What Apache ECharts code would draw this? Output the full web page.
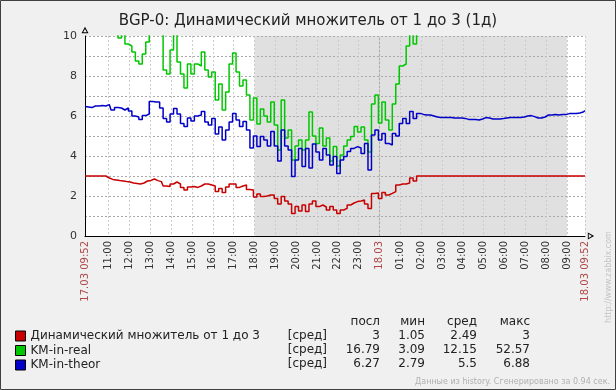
<!DOCTYPE html>
<html>
<head>
<meta charset="utf-8">
<script src="https://cdn.jsdelivr.net/npm/echarts@6/dist/echarts.min.js"></script>
<style>
html,body{margin:0;padding:0;background:#f0f0f0;}
#chart{width:616px;height:390px;}
</style>
</head>
<body>
<div id="chart"></div>
<script>
// ---- data ----
const titleText = 'BGP-0: Динамический множитель от 1 до 3 (1д)';
const seriesNames = ['Динамический множитель от 1 до 3', 'KM-in-real', 'KM-in-theor'];
const seriesColors = ['#c80000', '#00c800', '#0000c8'];
// samples every 10 minutes from 17.03 09:52 (minute 592 of 17.03) to 18.03 09:52
const sampleStartMin = 592;
const sampleStepMin = 10;
const dynMult = [
  3,3,3,3,3,3,3,2.9,2.83,2.8,
  2.77,2.75,2.72,2.7,2.65,2.63,2.6,2.65,2.75,2.78,
  2.85,2.77,2.72,2.5,2.47,2.6,2.7,2.6,2.43,2.3,
  2.45,2.47,2.43,2.5,2.6,2.6,2.55,2.5,2.22,2.38,
  2.17,2.45,2.6,2.6,2.43,2.5,2.55,2.33,2.3,1.95,
  2.1,1.97,2.0,2.05,2.05,1.88,1.6,1.97,1.75,1.6,
  1.13,1.47,1.25,1.55,1.22,1.6,1.75,1.47,1.55,1.45,
  1.3,1.47,1.3,1.13,1.3,1.38,1.55,1.65,1.72,1.75,
  1.8,1.6,1.38,2.13,2.15,1.88,2.17,2.05,2.13,2.22,
  2.55,2.6,2.6,2.65,2.9,2.75,3,3,3,3,
  3,3,3,3,3,3,3,3,3,3,
  3,3,3,3,3,3,3,3,3,3,
  3,3,3,3,3,3,3,3,3,3,
  3,3,3,3,3,3,3,3,3,3,
  3,3,3,3,3
];
const kmReal = [
  11.8,12.4,13.1,12.6,11.9,12.8,13.5,12.2,11.4,10.8,
  9.9,10.2,9.6,9.5,9.2,8.75,8.6,9.1,9.7,10.8,
  11.5,11,10.2,8.3,8.1,9.3,10.3,8.7,8.1,7.4,
  8.6,8.1,8.6,8.5,9.2,8.3,7.95,8.2,6.8,7.6,
  6.3,7.2,8.6,9.15,8.2,7.5,7.8,7.05,5.8,6.9,
  5.6,6.35,6.0,5.7,6.7,5.55,4.3,6.8,4.9,5.3,
  3.8,4.5,4.8,4.3,4.8,6.2,5.0,4.63,5.4,4.5,
  4.9,3.75,4.47,3.5,4.05,4.5,4.8,4.97,5.47,5.2,
  5.45,4.8,4.2,6.6,7.05,5.65,6.7,5.8,5.3,6.6,
  7.6,8.5,8.6,9.5,10.3,9.6,11,12.5,14,16,
  19,23,27,31,36,42,48,52.57,47,41,
  36,32,29,26,24,22,20.5,19,18,17.5,
  17,16.5,16.2,16,15.8,15.6,15.5,15.6,15.8,16,
  16.1,16.2,16.3,16.4,16.5,16.6,16.7,16.7,16.8,16.8,
  16.7,16.8,16.8,16.8,16.79
];
const kmTheor = [
  6.48,6.45,6.42,6.5,6.5,6.52,6.5,6.57,6.3,6.43,
  6.4,6.3,6.4,6.25,6.0,5.95,5.82,6.02,6.1,6.72,
  6.7,6.7,6.4,5.88,5.7,6.1,6.38,6.1,5.63,5.47,
  5.9,5.75,6.0,6.05,6.22,5.7,5.55,5.88,5.1,5.45,
  4.8,5.3,5.7,6.13,5.8,5.47,5.72,5.3,4.4,5.0,
  4.47,4.97,4.8,4.5,5.22,4.5,3.75,5.3,4.5,4.3,
  2.97,3.8,4.38,3.47,4.38,3.4,4.6,4.2,3.8,4.38,
  4.05,3.55,3.97,3.13,3.8,3.97,4.22,4.38,4.47,4.4,
  4.13,4.63,3.3,5.05,5.3,4.8,5.13,4.63,4.55,5.13,
  5.0,5.63,5.88,5.63,6.22,5.88,6.13,6.08,6.05,6.05,
  6.0,5.95,5.93,5.93,5.93,5.93,5.9,5.9,5.9,5.88,
  5.83,5.83,5.82,5.8,5.85,5.92,5.9,5.85,5.85,5.85,
  5.87,5.9,5.92,5.92,5.92,5.92,5.95,6.0,6.02,5.97,
  5.9,5.9,5.95,6.05,6.05,6.07,6.05,6.07,6.07,6.12,
  6.13,6.12,6.15,6.2,6.27
];
// x-axis tick labels
const startLabel = '17.03 09:52';
const endLabel = '18.03 09:52';
const hourLabels = ['11:00','12:00','13:00','14:00','15:00','16:00','17:00','18:00','19:00','20:00',
  '21:00','22:00','23:00','18.03','01:00','02:00','03:00','04:00','05:00','06:00','07:00','08:00','09:00'];
const firstHourMin = 660;   // 17.03 11:00
const axisStartMin = 592;   // 17.03 09:52
const axisEndMin = 2032;    // 18.03 09:52
const midnightMin = 1440;
const workStartMin = 1080;  // 18:00
const workEndMin = 1980;    // 09:00 next day
const yTicks = [0, 2, 4, 6, 8, 10];
// legend table
const statHeaders = ['посл', 'мин', 'сред', 'макс'];
const statFunc = '[сред]';
const statLast = ['3', '16.79', '6.27'];
const statMin = ['1.05', '3.09', '2.79'];
const statAvg = ['2.49', '12.15', '5.5'];
const statMax = ['3', '52.57', '6.88'];
const footerText = 'Данные из history. Сгенерировано за 0.94 сек.';
const sideText = 'http://www.zabbix.com';

// ---- build ----
const FONT = 'DejaVu Sans';
const tickVals = [axisStartMin];
const labelMap = {};
labelMap[axisStartMin] = startLabel;
hourLabels.forEach((l, k) => { const v = firstHourMin + 60 * k; tickVals.push(v); labelMap[v] = l; });
tickVals.push(axisEndMin);
labelMap[axisEndMin] = endLabel;
const redLabels = new Set([startLabel, endLabel, '18.03']);

function toPairs(arr) { return arr.map((v, i) => [sampleStartMin + sampleStepMin * i, v]); }

const arrowPath = 'path://M5,0 L10,9 L0,9 Z M5,3.2 L2.3,7.7 L7.7,7.7 Z';

const dataList = [dynMult, kmReal, kmTheor];
const series = [{
  type: 'line', data: [], z: 1, silent: true,
  markArea: { silent: true, z: 1, itemStyle: { color: '#e0e0e0' },
    data: [[{ xAxis: workStartMin }, { xAxis: workEndMin }]] },
  markLine: { silent: true, z: 2, symbol: ['none', 'none'], label: { show: false },
    lineStyle: { color: '#a8a8a8', type: [2, 2], width: 1 }, emphasis: { disabled: true },
    data: [{ xAxis: midnightMin }] }
}];
seriesNames.forEach((n, i) => {
  series.push({
    name: n, type: 'line', data: toPairs(dataList[i]), z: 3, step: 'middle',
    showSymbol: false, symbol: 'none', color: seriesColors[i],
    lineStyle: { width: 1.5, color: seriesColors[i] }, clip: true
  });
});

const graphics = [];
const colRight = [380, 425, 477, 530];
const rowY = [335.5, 349.5, 363.5];
statHeaders.forEach((h, c) => graphics.push({ type: 'text', x: colRight[c], y: 322,
  style: { text: h, align: 'right', verticalAlign: 'middle', font: '12px ' + FONT, fill: '#222' } }));
const cols = [statLast, statMin, statAvg, statMax];
rowY.forEach((y, r) => {
  graphics.push({ type: 'text', x: 327, y: y,
    style: { text: statFunc, align: 'right', verticalAlign: 'middle', font: '12px ' + FONT, fill: '#222' } });
  cols.forEach((col, c) => graphics.push({ type: 'text', x: colRight[c], y: y,
    style: { text: col[r], align: 'right', verticalAlign: 'middle', font: '12px ' + FONT, fill: '#222' } }));
});
graphics.push({ type: 'text', x: 610, y: 382,
  style: { text: footerText, align: 'right', verticalAlign: 'middle', font: '8px ' + FONT, fill: '#b0b0b0' } });
graphics.push({ type: 'text', x: 609, y: 277, rotation: Math.PI / 2,
  style: { text: sideText, align: 'center', verticalAlign: 'middle', font: '8px ' + FONT, fill: '#c4c4c4' } });
graphics.push({ type: 'rect', shape: { x: 0.5, y: 0.5, width: 615, height: 389 }, silent: true,
  style: { fill: 'none', stroke: '#404040', lineWidth: 1 } });

const chart = echarts.init(document.getElementById('chart'), null, { renderer: 'canvas' });
chart.setOption({
  animation: false,
  backgroundColor: '#f0f0f0',
  title: { text: titleText, left: 'center', top: 9,
    textStyle: { fontFamily: FONT, fontSize: 15, fontWeight: 'normal', color: '#222' } },
  legend: { orient: 'vertical', left: 10, top: 325, itemWidth: 10, itemHeight: 10, itemGap: 2.5,
    icon: 'rect', selectedMode: false, data: seriesNames,
    itemStyle: { borderColor: '#000', borderWidth: 1 },
    textStyle: { fontFamily: FONT, fontSize: 12, color: '#222' } },
  grid: { left: 85, right: 31, top: 36, bottom: 154, show: true, backgroundColor: '#ffffff',
    borderWidth: 0, containLabel: false, outerBoundsMode: 'none' },
  xAxis: {
    type: 'value', min: axisStartMin, max: axisEndMin, z: 2,
    axisLine: { show: true, onZero: false, lineStyle: { color: '#000', width: 1 },
      symbol: ['none', arrowPath], symbolSize: [7, 8], symbolOffset: [0, 6] },
    axisTick: { show: false, customValues: tickVals },
    axisLabel: { customValues: tickVals, rotate: 90, margin: 5, fontSize: 10, fontFamily: FONT,
      showMinLabel: true, showMaxLabel: true, hideOverlap: false,
      formatter: v => labelMap[v] || '',
      color: v => redLabels.has(labelMap[v]) ? '#b04848' : '#333' },
    splitLine: { show: true, lineStyle: { color: '#cccccc', type: [2, 2], width: 1 } }
  },
  yAxis: {
    type: 'value', min: 0, max: 10, interval: 1, z: 2,
    axisLine: { show: true, lineStyle: { color: '#000', width: 1 },
      symbol: ['none', arrowPath], symbolSize: [7, 8], symbolOffset: [0, 6] },
    axisTick: { show: false },
    axisLabel: { fontSize: 11, fontFamily: FONT, color: '#333', margin: 8,
      formatter: v => yTicks.indexOf(v) >= 0 ? String(v) : '' },
    splitLine: { show: true, lineStyle: { color: '#aaaaaa', type: [2, 2], width: 1 } }
  },
  graphic: graphics,
  series: series
});
</script>
</body>
</html>
